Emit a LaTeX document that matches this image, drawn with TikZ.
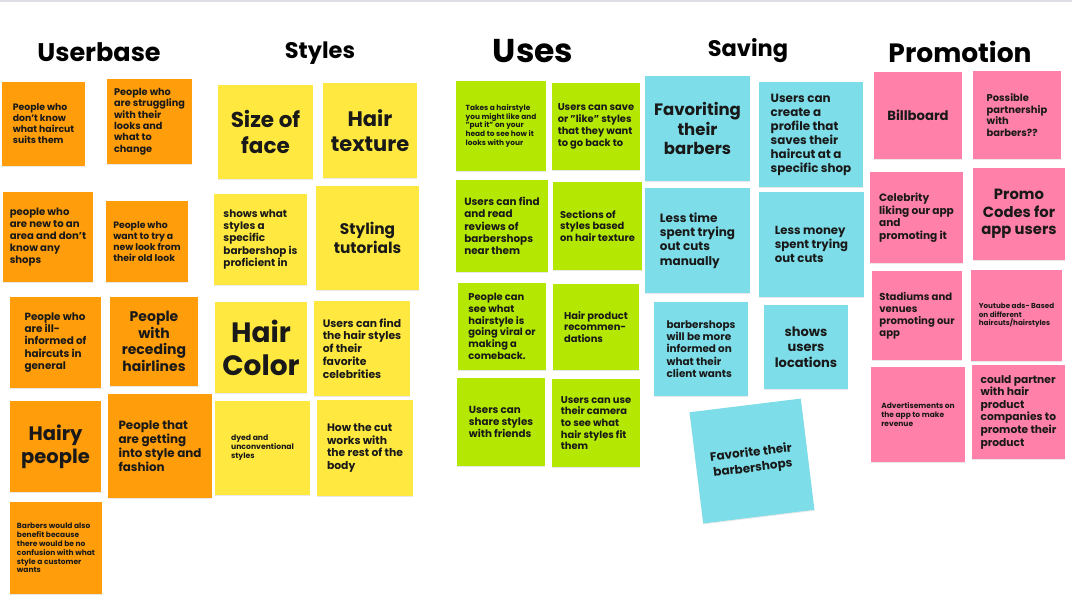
\documentclass[tikz,border=0pt]{standalone}
\usepackage{fontspec}
\setmainfont{Poppins}
\usepackage{xcolor}
\usetikzlibrary{shadows}
\definecolor{userbase}{RGB}{255,157,10}
\definecolor{styles}{RGB}{255,233,64}
\definecolor{uses}{RGB}{180,232,2}
\definecolor{saving}{RGB}{125,221,232}
\definecolor{promo}{RGB}{255,128,168}
\definecolor{ink}{RGB}{25,25,25}
\definecolor{rule}{RGB}{222,222,228}

\begin{document}
\begin{tikzpicture}[x=1pt, y=-1pt,
  sticky/.style={inner sep=0pt, align=left, text=ink,
    drop shadow={shadow xshift=0pt, shadow yshift=-1pt, opacity=.18}},
  ubnote/.style={sticky, fill=userbase},
  stnote/.style={sticky, fill=styles},
  usnote/.style={sticky, fill=uses},
  svnote/.style={sticky, fill=saving},
  prnote/.style={sticky, fill=promo},
  sq/.style={minimum width=#1pt, minimum height=#1pt},
  wh/.style 2 args={minimum width=#1pt, minimum height=#2pt},
  fz/.style 2 args={font=\bfseries\fontsize{#1}{#2}\selectfont},
  ctr/.style={align=center},
  heading/.style={font=\bfseries\fontsize{#1}{#1}\selectfont, text=black}
]
\useasboundingbox (0,0) rectangle (1072,604);
\draw[rule, line width=2pt] (0,1) -- (1072,1);

% column titles
\node[heading=25.5] (hub) at (99,52) {Userbase};
\node[heading=22.5] (hst) at (320,53) {Styles};
\node[heading=33] (hus) at (533,51) {Uses};
\node[heading=22.5] (hsv) at (748,51) {Saving};
\node[heading=26.5] (hpr) at (960,52) {Promotion};

% Userbase
\node[ubnote, wh={83}{84}, fz={9.3}{11}] (ub1) at (43.5,124) {People who\\don't know\\what haircut\\suits them};
\node[ubnote, sq=85, fz={9.7}{11.4}] (ub2) at (149.5,121.5) {People who\\are struggling\\with their\\looks and\\what to\\change};
\node[ubnote, sq=90, fz={10.1}{12}] (ub3) at (48,237) {people who\\are new to an\\area and don't\\know any\\shops};
\node[ubnote, wh={82}{81}, fz={9.3}{11}] (ub4) at (147,241.5) {People who\\want to try a\\new look from\\their old look};
\node[ubnote, sq=91, fz={10.4}{12.3}] (ub5) at (55.5,342.5) {People who\\are ill-\\informed of\\haircuts in\\general};
\node[ubnote, wh={88}{89}, fz={14}{16.7}, ctr] (ub6) at (154,341.5) {People\\with\\receding\\hairlines};
\node[ubnote, sq=91, fz={19.5}{23}, ctr] (ub7) at (55.5,446.5) {Hairy\\people};
\node[ubnote, sq=104, fz={11.9}{14}] (ub8) at (160,446) {People that\\are getting\\into style and\\fashion};
\node[ubnote, sq=92, fz={7.5}{8.9}] (ub9) at (56,548) {Barbers would also\\benefit because\\there would be no\\confusion with what\\style a customer\\wants};

% Styles
\node[stnote, wh={95}{94}, fz={21.5}{25.7}, ctr] (st1) at (265.5,132) {Size of\\face};
\node[stnote, wh={94}{95}, fz={21}{25}, ctr] (st2) at (370,130.5) {Hair\\texture};
\node[stnote, wh={93}{91}, fz={10.4}{12.3}] (st3) at (260.5,239.5) {shows what\\styles a\\specific\\barbershop is\\proficient in};
\node[stnote, wh={103}{104}, fz={15.4}{18.3}, ctr] (st4) at (367.5,238) {Styling\\tutorials};
\node[stnote, wh={92}{91}, fz={28}{33}, ctr] (st5) at (261,347.5) {Hair\\Color};
\node[stnote, wh={96}{95}, fz={10.8}{12.8}] (st6) at (362,348.5) {Users can find\\the hair styles\\of their\\favorite\\celebrities};
\node[stnote, wh={95}{94}, fz={7.7}{9}] (st7) at (262.5,448) {dyed and\\unconventional\\styles};
\node[stnote, sq=96, fz={10.8}{12.8}] (st8) at (365,448) {How the cut\\works with\\the rest of the\\body};

% Uses
\node[usnote, sq=90, fz={7.4}{8.7}] (us1) at (501,126) {Takes a hairstyle\\you might like and\\"put it" on your\\head to see how it\\looks with your};
\node[usnote, wh={88}{87}, fz={9.9}{11.8}] (us2) at (596,126.5) {Users can save\\or "like" styles\\that they want\\to go back to};
\node[usnote, sq=92, fz={10.4}{12.4}] (us3) at (502,226) {Users can find\\and read\\reviews of\\barbershops\\near them};
\node[usnote, wh={89}{88}, fz={9.9}{11.7}] (us4) at (597.5,226) {Sections of\\styles based\\on hair texture};
\node[usnote, wh={88}{87}, fz={9.9}{11.7}] (us5) at (502,326.5) {People can\\see what\\hairstyle is\\going viral or\\making a\\comeback.};
\node[usnote, sq=86, fz={9.9}{11.7}] (us6) at (596,327) {Hair product\\recommen-\\dations};
\node[usnote, sq=88, fz={10.3}{12.2}] (us7) at (501,422) {Users can\\share styles\\with friends};
\node[usnote, sq=88, fz={9.9}{11.7}] (us8) at (596,423) {Users can use\\their camera\\to see what\\hair styles fit\\them};

% Saving
\node[svnote, sq=105, fz={16.5}{19.5}, ctr] (sv1) at (697.5,128.5) {Favoriting\\their\\barbers};
\node[svnote, wh={104}{105}, fz={11.9}{14}] (sv2) at (811,134.5) {Users can\\create a\\profile that\\saves their\\haircut at a\\specific shop};
\node[svnote, sq=105, fz={12}{14.2}] (sv3) at (697.5,240.5) {Less time\\spent trying\\out cuts\\manually};
\node[svnote, sq=105, fz={11.7}{13.8}] (sv4) at (811.5,244.5) {Less money\\spent trying\\out cuts};
\node[svnote, sq=94, fz={10.4}{12.4}] (sv5) at (701,349) {barbershops\\will be more\\informed on\\what their\\client wants};
\node[svnote, sq=84, fz={13}{15.3}, ctr] (sv6) at (806,347) {shows\\users\\locations};
\node[svnote, sq=112, fz={12}{15.5}, ctr, rotate=7] (sv7) at (752,461) {Favorite their\\barbershops};

% Promotion
\node[prnote, wh={88}{87}, fz={13.2}{15}, ctr] (pr1) at (918,115.5) {Billboard};
\node[prnote, sq=88, fz={9.9}{11.7}] (pr2) at (1017,115) {Possible\\partnership\\with\\barbers??};
\node[prnote, wh={93}{91}, fz={10.6}{12.5}] (pr3) at (916.5,217.5) {Celebrity\\liking our app\\and\\promoting it};
\node[prnote, sq=92, fz={14.8}{17.5}, ctr] (pr4) at (1019,214) {Promo\\Codes for\\app users};
\node[prnote, wh={90}{89}, fz={10.1}{12}] (pr5) at (917,315.5) {Stadiums and\\venues\\promoting our\\app};
\node[prnote, sq=91, fz={7.2}{8.5}] (pr6) at (1016.5,315.5) {Youtube ads- Based\\on different\\haircuts/hairstyles};
\node[prnote, wh={94}{95}, fz={7.5}{8.8}] (pr7) at (918,414.5) {Advertisements on\\the app to make\\revenue};
\node[prnote, wh={93}{94}, fz={10.7}{12.6}] (pr8) at (1018.5,412) {could partner\\with hair\\product\\companies to\\promote their\\product};

\end{tikzpicture}
\end{document}
